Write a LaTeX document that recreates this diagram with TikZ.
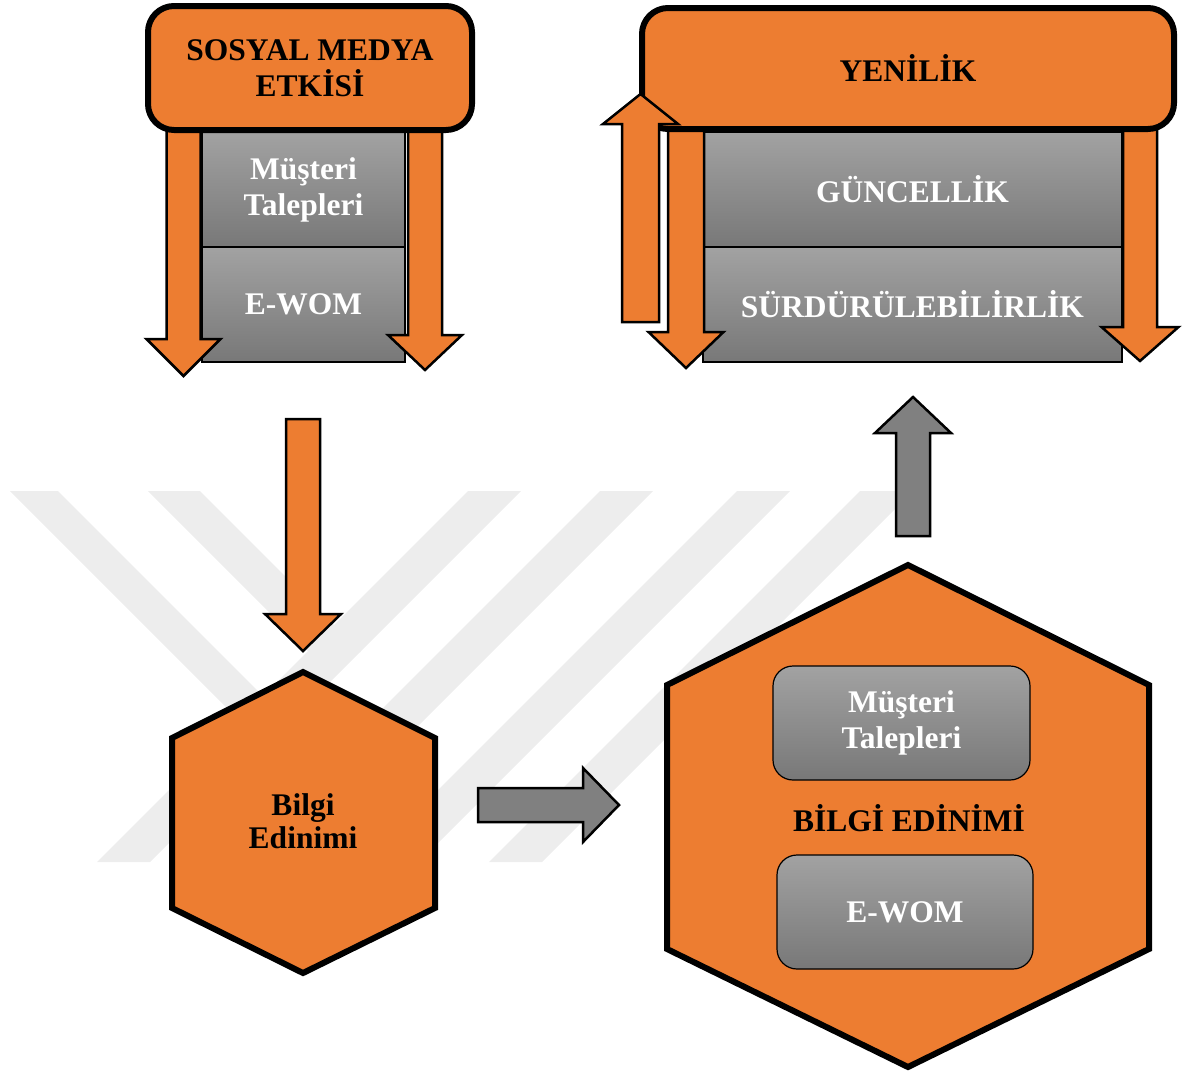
\documentclass[tikz,border=0pt]{standalone}
\usepackage{fontspec}
\setmainfont{Liberation Serif}
\usetikzlibrary{calc, positioning}

\definecolor{orangefill}{HTML}{ED7D31}
\definecolor{cellup}{HTML}{A2A2A2}
\definecolor{celldown}{HTML}{787878}
\definecolor{arrowgray}{HTML}{808080}
\definecolor{markgray}{HTML}{EDEDED}

% block arrow: style, from, to, half shaft, half head, head length
\newcommand{\blockarrow}[6]{%
  \coordinate (bh) at ($(#3)!#6!(#2)$);
  \draw[#1] ($(#2)!#4!90:(#3)$) -- ($(bh)!#4!90:(#3)$) -- ($(bh)!#5!90:(#3)$) -- (#3)
    -- ($(bh)!#5!-90:(#3)$) -- ($(bh)!#4!-90:(#3)$) -- ($(#2)!#4!-90:(#3)$) -- cycle;
}

\begin{document}
\begin{tikzpicture}[x=1pt, y=-1pt,
    lbl/.style={font=\fontsize{31.5}{36}\selectfont\bfseries, align=center, inner sep=0pt},
    headbox/.style={rectangle, draw, line width=6pt, rounded corners=26pt, fill=orangefill, lbl},
    graycell/.style={rectangle, draw, line width=1.2pt, top color=cellup, bottom color=celldown, text=white, lbl},
    graybox/.style={graycell, rounded corners=20pt},
    orangearrow/.style={draw, line width=2.5pt, fill=orangefill},
    grayarrow/.style={draw, line width=2.5pt, fill=arrowgray},
    hexa/.style={draw, line width=6pt, fill=orangefill},
    wmstripe/.style={fill=markgray}]
  \useasboundingbox (0,0) rectangle (1186,1079);

  % watermark
  \fill[wmstripe] (10,491) -- (58,491) -- (303,736) -- (255,736) -- cycle;
  \fill[wmstripe] (148,491) -- (200,491) -- (361,652) -- (309,652) -- cycle;
  \foreach \t in {468,600,737,860}
    \fill[wmstripe] (\t,491) -- (\t+53,491) -- (\t-318,862) -- (\t-371,862) -- cycle;

  % sosyal medya etkisi
  \node[graycell, minimum width=203pt, minimum height=115pt] (mt1) at (303.5, 189.5) {Müşteri\\Talepleri};
  \node[graycell, minimum width=203pt, minimum height=115pt] (ewom1) at (303.5, 304.5) {E-WOM};
  \coordinate (sl1) at (183.5, 128); \coordinate (sl2) at (183.5, 376);
  \coordinate (sr1) at (425, 128); \coordinate (sr2) at (425, 370);
  \blockarrow{orangearrow}{sl1}{sl2}{17pt}{37pt}{37pt}
  \blockarrow{orangearrow}{sr1}{sr2}{17pt}{37pt}{35pt}
  \node[headbox, minimum width=324pt, minimum height=124pt] (sme) at (310, 68) {SOSYAL MEDYA\\ETKİSİ};

  % yenilik
  \node[graycell, minimum width=419pt, minimum height=115pt] (gunc) at (912.5, 189.5) {GÜNCELLİK};
  \node[graycell, minimum width=419pt, minimum height=115pt] (surd) at (912.5, 304.5) {SÜRDÜRÜLEBİLİRLİK};
  \coordinate (yl1) at (686, 128); \coordinate (yl2) at (686, 368);
  \coordinate (yr1) at (1140, 128); \coordinate (yr2) at (1140, 361);
  \blockarrow{orangearrow}{yl1}{yl2}{18pt}{37.5pt}{36pt}
  \blockarrow{orangearrow}{yr1}{yr2}{17pt}{38.5pt}{34pt}
  \node[headbox, minimum width=532pt, minimum height=121pt] (yenilik) at (908, 68.5) {YENİLİK};
  \coordinate (yu1) at (640.5, 322); \coordinate (yu2) at (640.5, 94);
  \blockarrow{orangearrow}{yu1}{yu2}{18.5pt}{37.5pt}{30pt}

  % bilgi edinimi
  \coordinate (m1) at (303, 419); \coordinate (m2) at (303, 651);
  \blockarrow{orangearrow}{m1}{m2}{17pt}{38pt}{37pt}
  \draw[hexa] (303,672) -- (172,738) -- (172,908) -- (303,973) -- (435,908) -- (435,738) -- cycle;
  \node[lbl, font=\fontsize{31.5}{33}\selectfont\bfseries] (bilgi) at (303, 821) {Bilgi\\Edinimi};

  \coordinate (g1) at (478, 805); \coordinate (g2) at (619, 805);
  \blockarrow{grayarrow}{g1}{g2}{17pt}{37pt}{36pt}

  \draw[hexa] (908,565) -- (667,685) -- (667,949) -- (908,1067) -- (1149,949) -- (1149,685) -- cycle;
  \node[graybox, minimum width=257pt, minimum height=114pt] (mt2) at (901.5, 723) {Müşteri\\Talepleri};
  \node[lbl] (bigbilgi) at (909, 818) {BİLGİ EDİNİMİ};
  \node[graybox, minimum width=256pt, minimum height=114pt] (ewom2) at (905, 912) {E-WOM};

  \coordinate (u1) at (913, 536); \coordinate (u2) at (913, 397);
  \blockarrow{grayarrow}{u1}{u2}{17pt}{38pt}{36pt}
\end{tikzpicture}
\end{document}
